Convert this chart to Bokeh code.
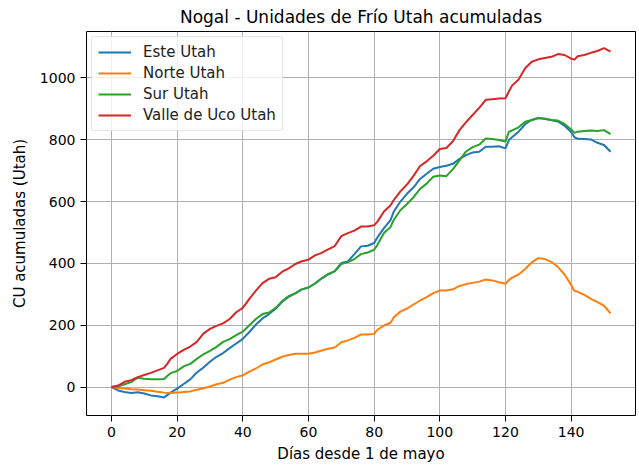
from bokeh.plotting import figure
from bokeh.models import Range1d, FixedTicker, Legend, LegendItem
from bokeh.embed import file_html
from bokeh.resources import INLINE

days = [0, 2, 4, 6, 8, 10, 12, 14, 16, 17, 18, 20, 22, 24, 26, 28, 30, 32, 34, 36, 38, 40,
        42, 44, 46, 48, 50, 52, 54, 56, 58, 60, 62, 64, 66, 68, 70, 72, 74, 76, 78, 80,
        81, 83, 85, 86, 88, 90, 92, 94, 96, 98, 100, 102, 104, 106, 108, 110, 112, 114,
        116, 118, 120, 121, 122, 124, 126, 128, 130, 132, 134, 136, 138, 140, 141, 142,
        144, 146, 148, 150, 152]

este = [0, -11, -16, -19, -17, -21, -27, -30, -34, -26, -18, -5, 10, 25, 47, 63, 82, 98, 110,
        126, 141, 156, 178, 202, 222, 236, 253, 276, 292, 303, 316, 322, 335, 351, 364, 375,
        401, 406, 430, 455, 457, 466, 484, 514, 540, 568, 600, 625, 646, 673, 690, 706, 712,
        716, 722, 738, 750, 759, 761, 777, 777, 779, 772, 798, 808, 826, 850, 864, 870, 868,
        863, 859, 845, 825, 808, 803, 802, 801, 790, 783, 761]

norte = [0, -3, -5, -7, -8, -10, -12, -15, -18, -19, -19, -18, -16, -14, -9, -4, 2, 9, 14,
         24, 32, 38, 50, 60, 73, 80, 89, 98, 104, 108, 108, 108, 112, 118, 124, 128, 145, 151,
         159, 170, 170, 172, 185, 199, 208, 226, 244, 254, 267, 280, 291, 304, 312, 312, 316,
         327, 333, 337, 341, 348, 345, 339, 334, 346, 354, 364, 382, 403, 417, 414, 405, 388,
         364, 330, 311, 308, 298, 285, 275, 263, 238]

sur = [0, 2, 9, 16, 30, 27, 25, 25, 26, 36, 45, 52, 67, 75, 91, 106, 117, 130, 146, 155, 168,
       179, 200, 220, 236, 241, 256, 278, 294, 304, 316, 322, 335, 352, 366, 374, 398, 404,
       414, 430, 435, 444, 460, 498, 518, 541, 572, 592, 614, 641, 658, 680, 684, 682, 705,
       733, 762, 776, 784, 804, 802, 799, 794, 825, 830, 840, 858, 864, 870, 868, 864, 862,
       851, 833, 822, 826, 828, 830, 828, 831, 818]

valle = [0, 5, 17, 22, 32, 39, 46, 54, 62, 75, 91, 107, 120, 131, 146, 173, 188, 198, 206,
         220, 242, 256, 285, 312, 336, 350, 355, 373, 384, 398, 407, 412, 426, 434, 445, 456,
         488, 498, 506, 519, 519, 523, 535, 568, 588, 605, 633, 655, 683, 715, 730, 748, 770,
         773, 795, 831, 857, 880, 903, 929, 931, 933, 934, 955, 975, 995, 1031, 1052, 1060,
         1064, 1068, 1077, 1074, 1062, 1059, 1070, 1074, 1081, 1087, 1096, 1085]

series_names = ["Este Utah", "Norte Utah", "Sur Utah", "Valle de Uco Utah"]
series_values = [este, norte, sur, valle]
colors = ["#1f77b4", "#ff7f0e", "#2ca02c", "#d62728"]
x_ticks = [0, 20, 40, 60, 80, 100, 120, 140]
y_ticks = [0, 200, 400, 600, 800, 1000]

FONT = "DejaVu Sans"

p = figure(output_backend="svg", toolbar_location=None,
           frame_width=549, frame_height=384,
           x_range=Range1d(-7.6, 159.6), y_range=Range1d(-92, 1150),
           title="Nogal - Unidades de Frío Utah acumuladas")
p.min_border_left = 86
p.min_border_top = 26
p.min_border_right = 2
p.min_border_bottom = 40

p.title.align = "center"
p.title.text_font = FONT
p.title.text_font_size = "17px"
p.title.text_font_style = "normal"
p.title.text_color = "black"
p.title.standoff = 9

p.outline_line_color = "black"
p.outline_line_width = 1

items = []
for name, vals, c in zip(series_names, series_values, colors):
    r = p.line(days, vals, line_color=c, line_width=2)
    items.append(LegendItem(label=name, renderers=[r]))

legend = Legend(items=items, location="top_left")
legend.label_text_font = FONT
legend.label_text_font_size = "15px"
legend.label_text_color = "#222222"
legend.glyph_width = 33
legend.glyph_height = 16
legend.label_height = 16
legend.label_standoff = 12
legend.spacing = 3
legend.padding = 6
legend.margin = 5
legend.border_line_color = "#cccccc"
legend.border_line_width = 1
legend.border_radius = 3
legend.background_fill_alpha = 0.8
p.add_layout(legend)

for ax, ticks in ((p.xaxis[0], x_ticks), (p.yaxis[0], y_ticks)):
    ax.ticker = FixedTicker(ticks=ticks)
    ax.major_label_text_font = FONT
    ax.major_label_text_font_size = "14px"
    ax.major_label_text_color = "black"
    ax.axis_label_text_font = FONT
    ax.axis_label_text_font_size = "15px"
    ax.axis_label_text_font_style = "normal"
    ax.axis_label_text_color = "black"
    ax.major_tick_out = 6
    ax.major_tick_in = 0
    ax.minor_tick_out = 0
    ax.minor_tick_in = 0
    ax.major_label_standoff = 5
    ax.axis_line_color = None
    ax.major_tick_line_color = "black"

p.xaxis.axis_label = "Días desde 1 de mayo"
p.yaxis.axis_label = "CU acumuladas (Utah)"
p.xaxis.axis_label_standoff = 5
p.yaxis.axis_label_standoff = 8

p.xgrid.ticker = FixedTicker(ticks=x_ticks)
p.ygrid.ticker = FixedTicker(ticks=y_ticks)
for g in (p.xgrid[0], p.ygrid[0]):
    g.grid_line_color = "#b0b0b0"
    g.grid_line_width = 1

open("out.html", "w").write(file_html(p, INLINE))
